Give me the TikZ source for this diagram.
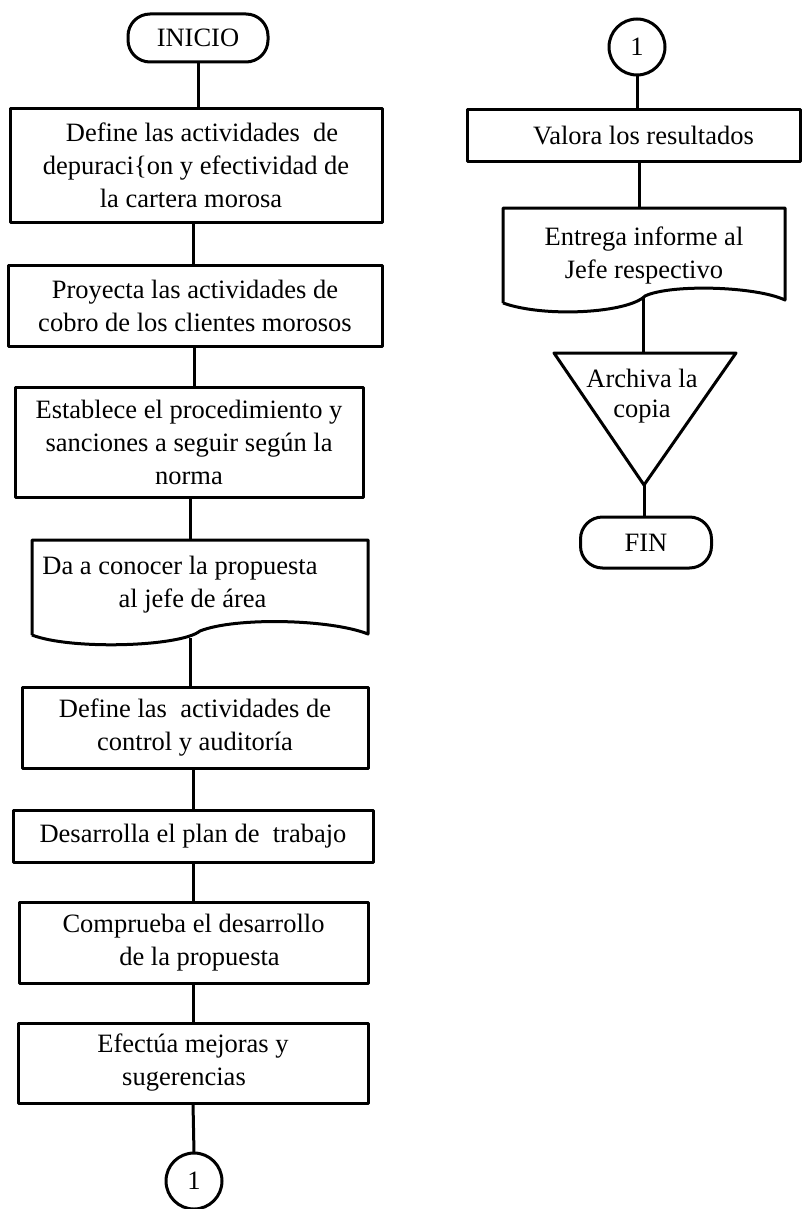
\documentclass[tikz,border=0pt]{standalone}
\usepackage{fontspec}
\setmainfont{Liberation Serif}
\begin{document}
\begin{tikzpicture}[x=1pt,y=-1pt,line width=3pt,line join=round,
  every node/.style={font=\fontsize{26.5}{33}\selectfont,align=center,inner sep=0pt,outer sep=0pt},
  proc/.style={draw,rectangle},
  term/.style={draw,rectangle,rounded corners=22pt},
  conn/.style={draw,circle,minimum size=56pt},
  docbox/.style={rectangle},
  link/.style={draw,line width=3pt}]
\useasboundingbox (0,0) rectangle (802,1209);

% ---- left column ----
\node[term,minimum width=140pt,minimum height=48pt] (ini) at (198,38) {INICIO};
\node[proc,minimum width=372pt,minimum height=113pt] (b1) at (196,165.5)
  {\hspace*{12pt}Define las actividades \ de\\depuraci\{on y efectividad de\hspace*{10pt}\\la cartera morosa\hspace*{10pt}};
\node[proc,minimum width=374pt,minimum height=81pt] (b2) at (195,305.5)
  {Proyecta las actividades de\\cobro de los clientes morosos};
\node[proc,minimum width=348pt,minimum height=110pt] (b3) at (189,442)
  {Establece el procedimiento y\\sanciones a seguir según la\\norma};
\node[docbox,minimum width=336pt,minimum height=95pt] (d4) at (200,587.5) {};
\node (d4t) at (180,585) {Da a conocer la propuesta\\\hspace*{25pt}al jefe de área};
\draw (d4.south west) -- (d4.north west) -- (d4.north east) -- (368,634)
  .. controls (330,619) and (235,617) .. (200,631)
  .. controls (180,647) and (70,650) .. (d4.south west);
\coordinate (d4out) at (190,638);
\node[proc,minimum width=346pt,minimum height=81pt] (b5) at (195,727.5)
  {Define las \ actividades de\\control y auditoría};
\node[proc,minimum width=360pt,minimum height=52pt] (b6) at (193,836)
  {Desarrolla el plan de \ trabajo};
\node[proc,minimum width=349pt,minimum height=81pt] (b7) at (193.5,942.5)
  {Comprueba el desarrollo\\\hspace*{12pt}de la propuesta};
\node[proc,minimum width=350pt,minimum height=80pt] (b8) at (193,1063)
  {Efectúa mejoras y\\sugerencias\hspace*{18pt}};
\node[conn] (c1) at (194,1181) {1};

\draw[link] (ini.south) -- (ini.south |- b1.north);
\draw[link] ([xshift=-3pt]b1.south) -- ([xshift=-3pt]b1.south |- b2.north);
\draw[link] ([xshift=-1pt]b2.south) -- ([xshift=-1pt]b2.south |- b3.north);
\draw[link] ([xshift=1pt]b3.south) -- ([xshift=1pt]b3.south |- d4.north);
\draw[link] (d4out) -- (d4out |- b5.north);
\draw[link] ([xshift=-2pt]b5.south) -- ([xshift=-2pt]b5.south |- b6.north);
\draw[link] (b6.south) -- (b6.south |- b7.north);
\draw[link] (b7.south) -- (b7.south |- b8.north);
\draw[link] (b8.south) -- (c1.north);

% ---- right column ----
\node[conn] (c2) at (637,47) {1};
\node[proc,minimum width=333pt,minimum height=52pt] (v1) at (633.5,136)
  {\hspace*{20pt}Valora los resultados};
\node[docbox,minimum width=282pt,minimum height=95pt] (e1) at (644,255.5)
  {Entrega informe al\\Jefe respectivo};
\draw (e1.south west) -- (e1.north west) -- (e1.north east) -- (785,300)
  .. controls (755,286) and (670,284) .. (645,296)
  .. controls (628,313) and (545,318) .. (e1.south west);
\coordinate (e1out) at (643,297);
\coordinate (tl) at (554,353);
\coordinate (tr) at (736,353);
\coordinate (tritop) at (643,353);
\coordinate (tritip) at (644,485);
\draw (tl) -- (tr) -- (tritip) -- cycle;
\node[font=\fontsize{26.5}{30}\selectfont] (tri) at (642,396) {Archiva la\\copia};
\node[term,minimum width=131pt,minimum height=51pt] (fin) at (646,542.5) {FIN};

\draw[link] (c2.south) -- (c2.south |- v1.north);
\draw[link] ([xshift=6pt]v1.south) -- ([xshift=6pt]v1.south |- e1.north);
\draw[link] (e1out) -- (tritop);
\draw[link] (tritip) -- (tritip |- fin.north);
\end{tikzpicture}
\end{document}
